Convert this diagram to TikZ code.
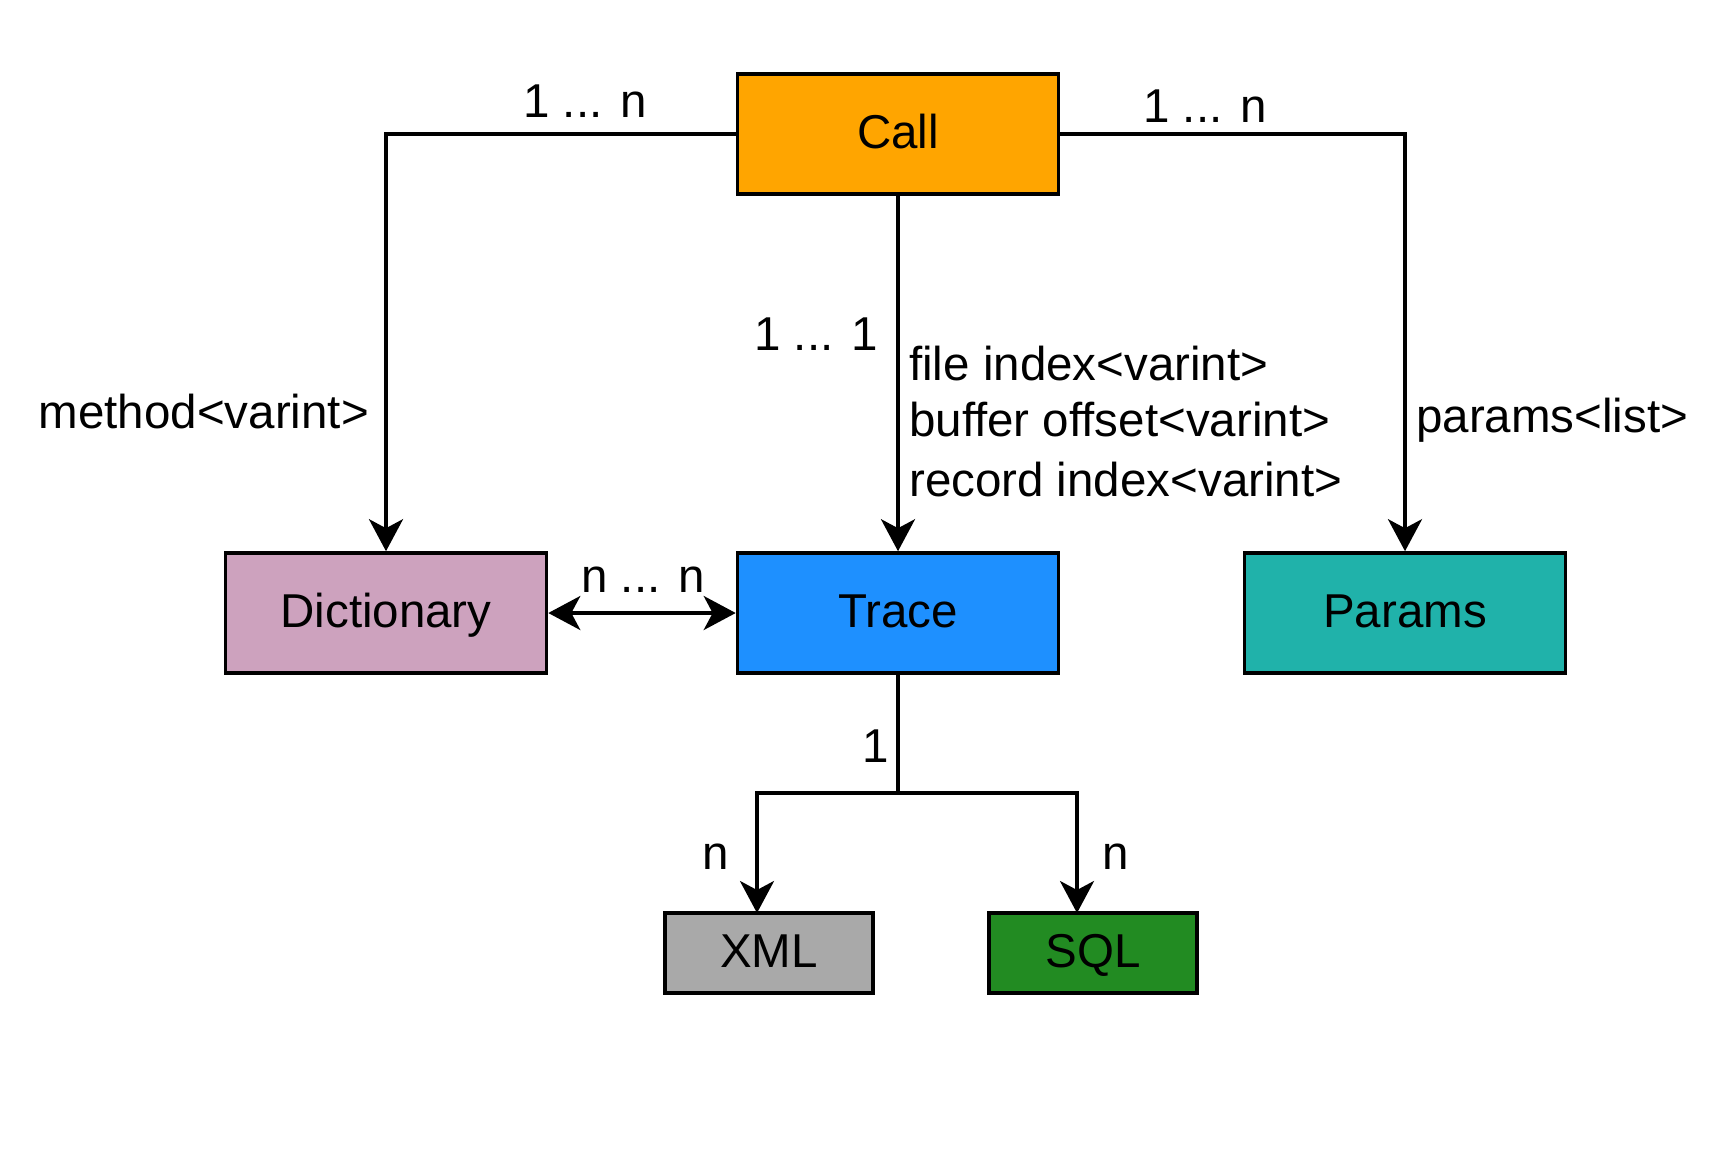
\documentclass[tikz,border=0pt]{standalone}
\usepackage{fontspec}
\setmainfont{Liberation Sans}
\usetikzlibrary{arrows.meta}
\definecolor{callc}{HTML}{FFA500}
\definecolor{dictc}{HTML}{CDA2BE}
\definecolor{tracec}{HTML}{1E90FF}
\definecolor{paramc}{HTML}{20B2AA}
\definecolor{xmlc}{HTML}{A9A9A9}
\definecolor{sqlc}{HTML}{228B22}
\tikzset{
  ent/.style={draw=black, line width=3.6pt, inner sep=0pt, minimum width=321pt, minimum height=120pt, text height=36.5pt, text depth=7.5pt, font=\fontsize{47.5}{58}\selectfont},
  smallent/.style={ent, minimum width=208pt, minimum height=80pt},
  lab/.style={inner sep=0pt, font=\fontsize{47.5}{58}\selectfont},
  conn/.style={line width=3.6pt, draw=black},
  arr/.style={conn, -{Stealth[length=32pt,width=34pt,inset=9pt]}},
  arrboth/.style={conn, {Stealth[length=32pt,width=34pt,inset=9pt]}-{Stealth[length=32pt,width=34pt,inset=9pt]}}
}
\begin{document}
\begin{tikzpicture}[x=1pt,y=-1pt]
\useasboundingbox[fill=white] (0,0) rectangle (1736,1160);
\node[ent, fill=callc] (call) at (898,134) {Call};
\node[ent, fill=dictc] (dict) at (386,613) {Dictionary};
\node[ent, fill=tracec] (trace) at (898,613) {Trace};
\node[ent, fill=paramc] (params) at (1405,613) {Params};
\node[smallent, fill=xmlc] (xml) at (769,953) {XML};
\node[smallent, fill=sqlc] (sql) at (1093,953) {SQL};
\coordinate (j) at (898,793);
\coordinate (xmlin) at (757,913);
\coordinate (sqlin) at (1077,913);
\draw[arr] (call.west) -| (dict.north);
\draw[arr] (call.east) -| (params.north);
\draw[arr] (call.south) -- (trace.north);
\draw[arrboth] (dict.east) -- (trace.west);
\draw[conn] (trace.south) -- (j);
\draw[arr] (j) -| (xmlin);
\draw[arr] (j) -| (sqlin);
\node[lab, anchor=base] (l1) at (585,117) {1 ... n};
\node[lab, anchor=base] (l2) at (1205,122) {1 ... n};
\node[lab, anchor=base] (l3) at (816,350) {1 ... 1};
\node[lab, anchor=base east] (l4) at (369,428) {method<varint>};
\node[lab, anchor=base west] (l5) at (1416,432) {params<list>};
\node[lab, anchor=base west] (l6) at (909,380) {file index<varint>};
\node[lab, anchor=base west] (l7) at (909,436) {buffer offset<varint>};
\node[lab, anchor=base west] (l8) at (909,496) {record index<varint>};
\node[lab, anchor=base] (l9) at (643,592) {n ... n};
\node[lab, anchor=base] (l10) at (876,762) {1};
\node[lab, anchor=base] (l11) at (716,869) {n};
\node[lab, anchor=base] (l12) at (1116,869) {n};
\end{tikzpicture}
\end{document}
